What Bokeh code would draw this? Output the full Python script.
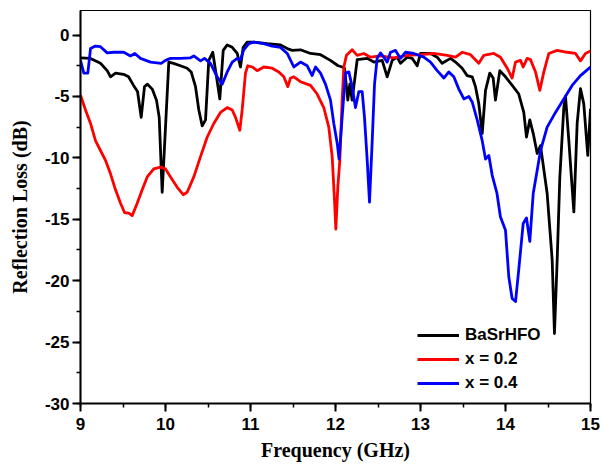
from bokeh.plotting import figure
from bokeh.models import Range1d, SingleIntervalTicker, Legend, LegendItem
from bokeh.embed import file_html
from bokeh.resources import INLINE

# ---------------- data ----------------
f_black = [9.0, 9.118, 9.235, 9.314, 9.353, 9.412, 9.506, 9.565, 9.624, 9.671, 9.714, 9.753, 9.788,
           9.844, 9.894, 9.926, 9.961, 10.0, 10.039, 10.094, 10.176, 10.255, 10.302, 10.353, 10.392,
           10.432, 10.471, 10.509, 10.556, 10.6, 10.639, 10.679, 10.726, 10.785, 10.844, 10.882,
           10.914, 10.961, 11.039, 11.196, 11.353, 11.432, 11.491, 11.588, 11.706, 11.824, 11.94,
           12.03, 12.08, 12.106, 12.145, 12.168, 12.196, 12.255, 12.373, 12.451, 12.549, 12.608,
           12.667, 12.726, 12.765, 12.844, 12.902, 12.961, 13.0, 13.118, 13.196, 13.255, 13.353,
           13.412, 13.49, 13.549, 13.608, 13.647, 13.686, 13.726, 13.765, 13.815, 13.855, 13.882,
           13.933, 14.0, 14.079, 14.156, 14.215, 14.247, 14.286, 14.326, 14.373, 14.412, 14.49,
           14.549, 14.576, 14.608, 14.639, 14.686, 14.706, 14.745, 14.804, 14.843, 14.882, 14.921,
           14.968, 15.0]
rl_black = [-1.85, -1.9, -2.3, -2.9, -3.4, -3.1, -3.2, -3.4, -4.1, -4.6, -6.7, -4.2, -4.0,
            -4.4, -5.3, -6.7, -12.8, -7.5, -2.2, -2.3, -2.5, -2.7, -3.0, -4.2, -6.1,
            -7.4, -6.9, -2.06, -1.4, -3.4, -5.2, -1.25, -0.8, -1.0, -1.5, -2.6,
            -1.0, -0.57, -0.57, -0.7, -0.8, -1.1, -1.25, -1.2, -1.5, -1.6, -2.06,
            -2.5, -2.6, -2.7, -5.3, -4.0, -5.3, -2.0, -1.9, -2.2, -2.06, -3.4,
            -2.06, -1.8, -2.3, -1.8, -1.9, -2.5, -1.5, -1.5, -1.8, -2.3, -1.9,
            -2.2, -2.7, -3.3, -3.4, -4.2, -5.6, -8.0, -4.5, -3.1, -3.5, -5.3,
            -2.9, -3.4, -4.1, -4.8, -6.3, -8.3, -6.9, -8.0, -9.65, -9.0, -12.9,
            -18.3, -24.3, -18.3, -11.6, -5.9, -5.0, -8.6, -14.4, -7.2, -4.36, -5.6,
            -9.8, -6.0]

f_red = [9.0, 9.059, 9.118, 9.176, 9.235, 9.294, 9.353, 9.412, 9.471, 9.518, 9.568, 9.608, 9.667,
         9.726, 9.785, 9.862, 9.941, 10.0, 10.059, 10.138, 10.208, 10.255, 10.333, 10.412, 10.491,
         10.568, 10.647, 10.726, 10.785, 10.824, 10.874, 10.902, 10.941, 10.968, 11.02, 11.079,
         11.156, 11.255, 11.333, 11.392, 11.439, 11.471, 11.51, 11.588, 11.706, 11.784, 11.862,
         11.921, 11.961, 11.988, 12.004, 12.027, 12.051, 12.078, 12.098, 12.129, 12.196, 12.255,
         12.333, 12.412, 12.529, 12.686, 12.844, 13.0, 13.157, 13.314, 13.412, 13.49, 13.588,
         13.686, 13.745, 13.863, 13.941, 14.02, 14.078, 14.118, 14.176, 14.208, 14.255, 14.294,
         14.353, 14.404, 14.451, 14.51, 14.608, 14.726, 14.824, 14.882, 14.941, 15.0]
rl_red = [-4.9, -6.1, -7.2, -8.6, -9.4, -10.2, -11.3, -12.6, -13.7, -14.45, -14.5, -14.7, -13.7,
          -12.6, -11.55, -10.9, -10.75, -10.9, -11.55, -12.4, -13.0, -12.8, -11.55, -9.9, -8.3,
          -7.2, -6.3, -5.9, -6.1, -6.7, -7.75, -6.1, -3.1, -2.5, -2.6, -2.9,
          -2.6, -2.7, -3.0, -3.4, -4.2, -3.5, -3.4, -3.8, -4.1, -4.8, -5.9,
          -7.5, -9.9, -13.4, -15.8, -12.4, -10.2, -5.3, -2.6, -1.65, -1.2, -1.65,
          -1.5, -1.8, -1.7, -1.85, -1.65, -1.6, -1.5, -1.65, -1.8, -1.4, -1.6,
          -2.3, -1.65, -1.5, -1.8, -2.7, -3.5, -2.2, -2.06, -2.6, -1.9, -2.0,
          -3.0, -4.5, -3.0, -1.5, -1.25, -1.4, -1.5, -2.1, -1.5, -1.3]

f_blue = [9.0, 9.039, 9.086, 9.118, 9.176, 9.235, 9.314, 9.392, 9.509, 9.588, 9.639, 9.706, 9.824,
          9.949, 10.0, 10.059, 10.176, 10.294, 10.333, 10.412, 10.459, 10.529, 10.608, 10.667,
          10.726, 10.785, 10.844, 10.882, 10.921, 10.98, 11.039, 11.156, 11.255, 11.353, 11.432,
          11.51, 11.588, 11.667, 11.725, 11.765, 11.824, 11.882, 11.941, 11.98, 12.02, 12.042,
          12.078, 12.118, 12.157, 12.196, 12.235, 12.275, 12.314, 12.341, 12.373, 12.4, 12.432,
          12.459, 12.49, 12.529, 12.568, 12.608, 12.647, 12.706, 12.765, 12.824, 12.922, 13.039,
          13.118, 13.196, 13.275, 13.333, 13.392, 13.451, 13.51, 13.569, 13.608, 13.667, 13.726,
          13.765, 13.804, 13.843, 13.9, 13.94, 14.0, 14.039, 14.078, 14.118, 14.156, 14.208,
          14.247, 14.286, 14.326, 14.373, 14.412, 14.49, 14.588, 14.686, 14.784, 14.882, 15.0]
rl_blue = [-2.06, -3.1, -3.1, -1.1, -0.9, -0.95, -1.45, -1.4, -1.4, -1.7, -1.5, -1.9, -2.2,
           -2.3, -2.06, -1.9, -1.9, -1.85, -1.7, -2.1, -1.9, -2.3, -3.4, -4.0,
           -3.0, -2.2, -1.9, -2.0, -1.2, -0.7, -0.57, -0.7, -0.9, -1.0, -1.5,
           -2.6, -2.2, -2.5, -3.3, -2.6, -3.1, -4.0, -5.3, -7.2, -8.8, -10.1,
           -6.7, -3.1, -3.0, -4.2, -5.9, -4.6, -4.6, -6.7, -10.2, -13.6, -8.6,
           -4.0, -1.9, -1.45, -1.8, -2.2, -1.4, -1.25, -1.9, -1.4, -1.5, -1.8,
           -2.2, -2.9, -3.5, -3.0, -3.4, -4.4, -5.2, -5.0, -5.45, -6.9, -8.6,
           -10.1, -9.8, -11.4, -12.9, -14.8, -15.9, -19.7, -21.45, -21.7, -19.1, -15.35,
           -14.9, -16.8, -12.9, -11.0, -9.4, -7.5, -6.3, -5.2, -4.1, -3.3, -2.6]

series_names = ["BaSrHFO", "x = 0.2", "x = 0.4"]
series_colors = ["#000000", "#ff0000", "#0000ff"]
y_ticks = [0, -5, -10, -15, -20, -25, -30]
y_tick_labels = ["0", "-5", "-10", "-15", "-20", "-25", "-30"]
x_title = "Frequency (GHz)"
y_title = "Reflection Loss (dB)"

# ---------------- figure ----------------
p = figure(width=600, height=466, output_backend="svg", toolbar_location=None,
           x_range=Range1d(9, 15), y_range=Range1d(-30, 2),
           min_border_left=80, min_border_right=10, min_border_top=10, min_border_bottom=63)
p.background_fill_color = "white"
p.border_fill_color = "white"
p.outline_line_color = "black"
p.outline_line_width = 1.2
p.xgrid.visible = False
p.ygrid.visible = False

renderers = []
for fx, ry, c in zip([f_black, f_red, f_blue], [rl_black, rl_red, rl_blue], series_colors):
    r = p.line(fx, ry, line_color=c, line_width=2.8, line_join="round")
    renderers.append(r)

for ax in (p.xaxis[0], p.yaxis[0]):
    ax.axis_line_width = 2
    ax.axis_line_color = "black"
    ax.major_tick_line_width = 2
    ax.minor_tick_line_width = 1.5
    ax.major_tick_in = 0
    ax.major_tick_out = 8
    ax.minor_tick_in = 0
    ax.minor_tick_out = 4
    ax.major_label_text_font = "Liberation Sans"
    ax.major_label_text_font_style = "bold"
    ax.major_label_text_font_size = "17px"
    ax.major_label_text_color = "black"
    ax.axis_label_text_font = "Liberation Serif"
    ax.axis_label_text_font_style = "bold"
    ax.axis_label_text_font_size = "20px"
    ax.axis_label_text_color = "black"

p.xaxis[0].ticker = SingleIntervalTicker(interval=1, num_minor_ticks=2)
p.yaxis[0].ticker = SingleIntervalTicker(interval=5, num_minor_ticks=2)
p.yaxis[0].major_label_overrides = {v: s for v, s in zip(y_ticks, y_tick_labels)}
p.xaxis[0].major_label_standoff = 6
p.yaxis[0].major_label_standoff = 3
p.xaxis[0].axis_label = x_title
p.yaxis[0].axis_label = y_title
p.xaxis[0].axis_label_standoff = 6
p.yaxis[0].axis_label_standoff = 11

legend = Legend(items=[LegendItem(label=n, renderers=[r]) for n, r in zip(series_names, renderers)],
                location=(337, 10), border_line_color=None, background_fill_alpha=0,
                glyph_width=42, glyph_height=20, label_height=20, spacing=4, padding=0, margin=0,
                label_standoff=6, label_text_font="Liberation Sans", label_text_font_style="bold",
                label_text_font_size="17px", label_text_color="black")
p.add_layout(legend, "center")

open("out.html", "w").write(file_html(p, INLINE))
